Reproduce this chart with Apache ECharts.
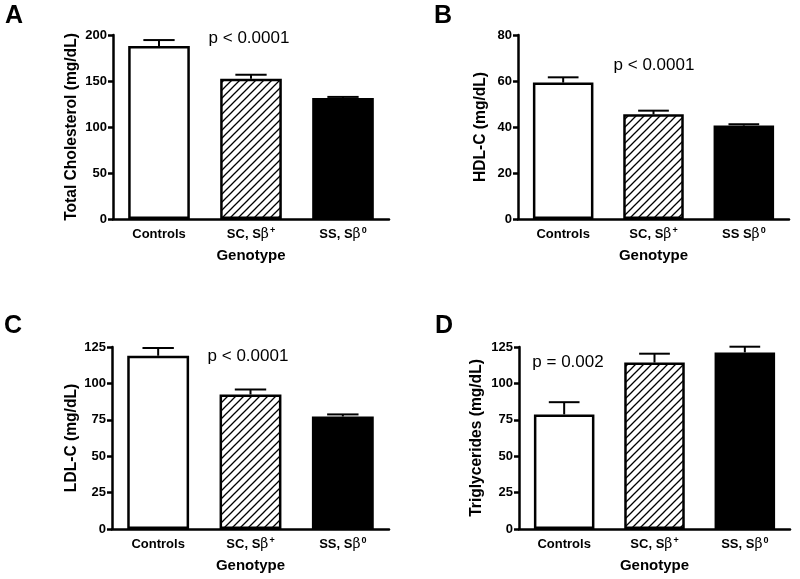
<!DOCTYPE html>
<html>
<head>
<meta charset="utf-8">
<script src="https://cdn.jsdelivr.net/npm/echarts@6/dist/echarts.min.js"></script>
<style>html,body{margin:0;padding:0;background:#fff}#c{width:800px;height:579px}</style>
</head>
<body>
<div id="c"></div>
<script>
// ---- data ----
const categoriesA = ['Controls', 'SC, Sβ+', 'SS, Sβ0'];
const categoriesB = ['Controls', 'SC, Sβ+', 'SS Sβ0'];
const categoriesC = ['Controls', 'SC, Sβ+', 'SS, Sβ0'];
const categoriesD = ['Controls', 'SC, Sβ+', 'SS, Sβ0'];

const totalChol = [188, 152.5, 131.5];
const totalCholErr = [6.5, 4.3, 1.2];
const hdl = [59.3, 45.5, 40.6];
const hdlErr = [2.3, 1.6, 0.6];
const ldl = [119, 92.4, 77.3];
const ldlErr = [5.3, 3.4, 1.4];
const trig = [78.7, 114.3, 121.3];
const trigErr = [8.4, 6.1, 3.9];

const yNames = ['Total Cholesterol (mg/dL)', 'HDL-C (mg/dL)', 'LDL-C (mg/dL)', 'Triglycerides (mg/dL)'];
const yMax = [200, 80, 125, 125];
const yInterval = [50, 20, 25, 25];
const pTexts = ['p < 0.0001', 'p < 0.0001', 'p < 0.0001', 'p = 0.002'];
const panelLetters = ['A', 'B', 'C', 'D'];
const xName = 'Genotype';

// ---- styling / layout ----
const FONT = 'Liberation Sans, Arial, sans-serif';
const grids = [
  {left: 113, top: 35, width: 276, height: 184},
  {left: 518, top: 35, width: 271, height: 184},
  {left: 112, top: 347, width: 277, height: 182},
  {left: 519, top: 347, width: 271, height: 182}
];
const yNameGap = [33, 29, 32, 34];
const pPos = [[249, 38], [654, 65], [248, 356], [568, 362]];
const letterPos = [[5, 4], [434, 4], [4, 314], [435, 314]];

const hatch = (function () {
  const c = document.createElement('canvas');
  c.width = 8; c.height = 8;
  const g = c.getContext('2d');
  g.fillStyle = '#fff'; g.fillRect(0, 0, 8, 8);
  g.strokeStyle = '#000'; g.lineWidth = 1.3;
  g.beginPath();
  g.moveTo(0, 8); g.lineTo(8, 0);
  g.moveTo(-2, 2); g.lineTo(2, -2);
  g.moveTo(6, 10); g.lineTo(10, 6);
  g.stroke();
  return c;
})();
const fills = ['#ffffff', {image: hatch, repeat: 'repeat'}, '#000000'];

const cats = [categoriesA, categoriesB, categoriesC, categoriesD];
const vals = [totalChol, hdl, ldl, trig];
const errs = [totalCholErr, hdlErr, ldlErr, trigErr];

function catFormatter(v) {
  const i = v.indexOf('β');
  if (i < 0) return '{n|' + v + '}';
  return '{n|' + v.slice(0, i) + '}{g|β}{s|' + v.slice(i + 1) + '}';
}

const xAxes = [], yAxes = [], series = [], graphics = [];
for (let k = 0; k < 4; k++) {
  xAxes.push({
    type: 'category', gridIndex: k, data: cats[k],
    name: xName, nameLocation: 'middle', nameGap: 29,
    nameTextStyle: {fontFamily: FONT, fontWeight: 'bold', fontSize: 15, color: '#000'},
    axisLine: {lineStyle: {color: '#000', width: 2.5}},
    axisTick: {alignWithLabel: true, length: 5, lineStyle: {color: '#000', width: 2.5}},
    axisLabel: {
      margin: 7, interval: 0, color: '#000', formatter: catFormatter,
      rich: {
        n: {fontFamily: FONT, fontWeight: 'bold', fontSize: 13, color: '#000', lineHeight: 16},
        g: {fontFamily: 'DejaVu Serif, serif', fontSize: 14, color: '#000', lineHeight: 16},
        s: {fontFamily: FONT, fontWeight: 'bold', fontSize: 9, color: '#000', verticalAlign: 'top', lineHeight: 16, padding: [0, 0, 8, 1]}
      }
    },
    splitLine: {show: false}
  });
  yAxes.push({
    type: 'value', gridIndex: k, min: 0, max: yMax[k], interval: yInterval[k],
    name: yNames[k], nameLocation: 'middle', nameGap: yNameGap[k],
    nameTextStyle: {fontFamily: FONT, fontWeight: 'bold', fontSize: 15.6, color: '#000'},
    axisLine: {show: true, lineStyle: {color: '#000', width: 2.5}},
    axisTick: {show: true, length: 5, lineStyle: {color: '#000', width: 2.5}},
    axisLabel: {fontFamily: FONT, fontWeight: 'bold', fontSize: 13, color: '#000', margin: 6},
    splitLine: {show: false}
  });
  series.push({
    type: 'bar', xAxisIndex: k, yAxisIndex: k, barWidth: '67%',
    data: vals[k].map((v, i) => ({value: v, itemStyle: {color: fills[i]}})),
    itemStyle: {borderColor: '#000', borderWidth: 2.5},
    z: 2, silent: true
  });
  series.push({
    type: 'custom', xAxisIndex: k, yAxisIndex: k, z: 3, silent: true,
    data: vals[k].map((v, i) => [i, v, errs[k][i]]),
    encode: {x: 0, y: 1},
    renderItem: function (params, api) {
      const i = api.value(0), v = api.value(1), e = api.value(2);
      const p0 = api.coord([i, v]);
      const p1 = api.coord([i, v + e]);
      const w = api.size([1, 0])[0] * 0.17;
      return {type: 'group', children: [
        {type: 'line', shape: {x1: p0[0], y1: p0[1], x2: p1[0], y2: p1[1]}, style: {stroke: '#000', lineWidth: 2}},
        {type: 'line', shape: {x1: p1[0] - w, y1: p1[1], x2: p1[0] + w, y2: p1[1]}, style: {stroke: '#000', lineWidth: 2}}
      ]};
    }
  });
  graphics.push({
    type: 'text', x: pPos[k][0], y: pPos[k][1],
    style: {text: pTexts[k], fontFamily: FONT, fontSize: 17, fill: '#000', textAlign: 'center', textVerticalAlign: 'middle'}
  });
  graphics.push({
    type: 'text', x: letterPos[k][0], y: letterPos[k][1],
    style: {text: panelLetters[k], fontFamily: FONT, fontWeight: 'bold', fontSize: 25, fill: '#000', textVerticalAlign: 'top'}
  });
}

const chart = echarts.init(document.getElementById('c'), null, {renderer: 'canvas'});
chart.setOption({
  animation: false,
  backgroundColor: '#fff',
  grid: grids,
  xAxis: xAxes,
  yAxis: yAxes,
  series: series,
  graphic: graphics
});
</script>
</body>
</html>
